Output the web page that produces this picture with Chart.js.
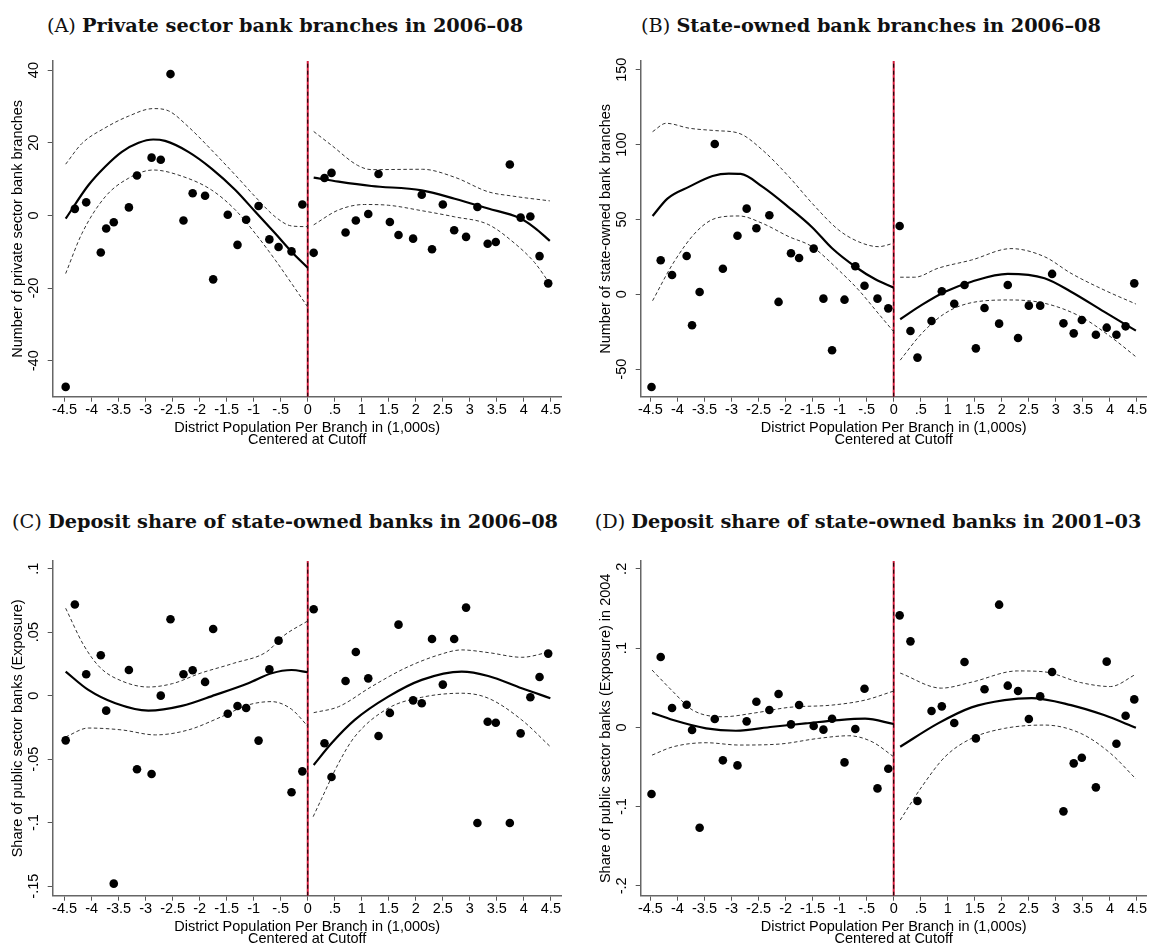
<!DOCTYPE html>
<html>
<head>
<meta charset="utf-8">
<script src="https://cdn.jsdelivr.net/npm/chart.js@4.4.1/dist/chart.umd.min.js"></script>
<style>
  html, body { margin: 0; padding: 0; background: #fff; }
  body { width: 1151px; height: 947px; position: relative; overflow: hidden; }
  canvas { position: absolute; }
  .title {
    position: absolute; white-space: nowrap; transform: translateX(-50%);
    font-family: "DejaVu Serif", serif; font-size: 19.3px; line-height: 19.3px; color: #111;
  }
  .title b { font-weight: bold; }
</style>
</head>
<body>
<div class="title" style="left:285px; top:15.7px">(A) <b>Private sector bank branches in 2006–08</b></div>
<div class="title" style="left:871px; top:15.7px">(B) <b>State-owned bank branches in 2006–08</b></div>
<div class="title" style="left:285px; top:512px">(C) <b>Deposit share of state-owned banks in 2006–08</b></div>
<div class="title" style="left:868px; top:512px">(D) <b>Deposit share of state-owned banks in 2001–03</b></div>

<canvas id="panelA" width="575" height="470" style="left:0px; top:0px"></canvas>
<canvas id="panelB" width="576" height="470" style="left:575px; top:0px"></canvas>
<canvas id="panelC" width="575" height="447" style="left:0px; top:500px"></canvas>
<canvas id="panelD" width="576" height="447" style="left:575px; top:500px"></canvas>

<script>
// Bin midpoints: district population per branch (1,000s), centered at the cutoff
const binX = [-4.48, -4.31, -4.10, -3.83, -3.73, -3.59, -3.31, -3.16, -2.89, -2.72, -2.54, -2.30,
  -2.13, -1.90, -1.75, -1.48, -1.30, -1.14, -0.91, -0.71, -0.54, -0.30, -0.10,
  0.11, 0.31, 0.44, 0.70, 0.89, 1.12, 1.31, 1.52, 1.68, 1.95, 2.11, 2.30, 2.50, 2.71,
  2.93, 3.14, 3.33, 3.48, 3.74, 3.94, 4.12, 4.29, 4.45];

// Binned means
const privateBranches = [-47.2, 1.8, 3.6, -10.2, -3.6, -1.9, 2.2, 11.0, 15.9, 15.3, 38.9, -1.4,
  6.1, 5.4, -17.6, 0.2, -8.1, -1.2, 2.6, -6.6, -8.7, -9.9, 3.0,
  -10.3, 10.3, 11.7, -4.7, -1.4, 0.4, 11.4, -1.8, -5.4, -6.4, 5.7, -9.3, 3.0, -4.1,
  -5.9, 2.3, -7.8, -7.3, 14.0, -0.6, -0.3, -11.2, -18.7];
const stateBranches = [-61.9, 22.7, 12.9, 25.6, -20.7, 1.5, 100.4, 17.1, 39.1, 57.2, 44.1, 52.8,
  -5.1, 27.4, 24.2, 30.5, -2.9, -37.4, -3.6, 18.7, 5.7, -2.9, -9.4,
  45.6, -24.5, -42.3, -17.8, 2.0, -6.3, 6.2, -36.1, -9.2, -19.6, 6.2, -29.2, -7.6, -7.6,
  13.6, -19.4, -26.1, -17.2, -27.0, -22.3, -27.0, -21.4, 7.3];
const depositShare0608 = [-0.0352, 0.0717, 0.0168, 0.0318, -0.0118, -0.148, 0.0202, -0.058, -0.0617, 0.0, 0.0601, 0.0168,
  0.020, 0.0108, 0.0525, -0.0142, -0.0081, -0.0097, -0.0354, 0.0207, 0.0433, -0.0761, -0.0596,
  0.068, -0.0375, -0.064, 0.0115, 0.0344, 0.0136, -0.0318, -0.0136, 0.0559, -0.0037, -0.006, 0.0446, 0.0087, 0.0446,
  0.0693, -0.1003, -0.0205, -0.0213, -0.1003, -0.0297, -0.0013, 0.0147, 0.0331];
const depositShare0103 = [-0.0841, 0.0887, 0.0244, 0.0286, -0.0034, -0.1266, 0.0105, -0.0416, -0.048, 0.0076, 0.0324, 0.0219,
  0.042, 0.0038, 0.0282, 0.0017, -0.0029, 0.0109, -0.0442, -0.0021, 0.0488, -0.077, -0.0522,
  0.1413, 0.1085, -0.093, 0.0206, 0.0265, 0.0055, 0.0824, -0.0139, 0.048, 0.1548, 0.0526, 0.0458, 0.0105, 0.0391,
  0.0698, -0.106, -0.0454, -0.0383, -0.0757, 0.0829, -0.0206, 0.0147, 0.0353];

// Local polynomial fits and 95% bands, [x, y], each side of the cutoff
const privateFitLeft = [[-4.48, -0.9], [-4.06, 8.3], [-3.75, 13.4], [-3.44, 17.5], [-3.13, 20.0], [-2.86, 20.9], [-2.64, 20.5], [-2.21, 17.5], [-1.78, 12.9], [-1.34, 7.0], [-0.97, 1.0], [-0.60, -5.0], [-0.30, -10.0], [0, -14.4]];
const privateUpperLeft = [[-4.48, 14.1], [-4.18, 19.8], [-3.75, 24.1], [-3.32, 27.3], [-2.86, 29.4], [-2.58, 28.8], [-2.21, 24.4], [-1.78, 18.0], [-1.34, 11.1], [-0.97, 5.1], [-0.60, -0.4], [-0.30, -2.9], [0, -3.1]];
const privateLowerLeft = [[-4.48, -16.0], [-4.18, -5.0], [-3.75, 5.1], [-3.32, 10.2], [-2.86, 12.5], [-2.33, 10.8], [-1.78, 7.0], [-1.34, 1.5], [-0.97, -5.0], [-0.60, -12.3], [-0.30, -18.7], [0, -25.2]];
const privateFitRight = [[0.11, 10.4], [0.57, 9.3], [1.18, 8.1], [2.11, 6.9], [2.72, 4.6], [3.34, 1.9], [3.90, -0.6], [4.20, -3.4], [4.48, -7.0]];
const privateUpperRight = [[0.11, 23.1], [0.44, 19.3], [0.92, 13.8], [1.18, 12.6], [2.12, 12.7], [2.72, 10.5], [3.34, 6.5], [3.80, 5.3], [4.48, 4.0]];
const privateLowerRight = [[0.11, -2.6], [0.57, 1.5], [1.05, 3.0], [1.49, 2.8], [2.11, 1.3], [2.72, -0.4], [3.34, -2.5], [3.83, -7.7], [4.20, -13.0], [4.48, -18.8]];

const stateFitLeft = [[-4.46, 52.3], [-4.18, 64.1], [-3.78, 71.9], [-3.35, 79.0], [-3.05, 80.6], [-2.83, 80.4], [-2.43, 71.9], [-1.94, 58.1], [-1.51, 44.8], [-1.14, 30.7], [-0.71, 18.4], [-0.34, 10.0], [0, 4.4]];
const stateUpperLeft = [[-4.46, 108.6], [-4.21, 114.2], [-3.78, 110.9], [-3.29, 109.3], [-2.86, 107.5], [-2.43, 96.4], [-1.94, 78.6], [-1.51, 60.8], [-1.02, 43.0], [-0.65, 35.1], [-0.28, 31.8], [0, 34.1]];
const stateLowerLeft = [[-4.46, -4.3], [-4.08, 20.7], [-3.65, 41.8], [-3.29, 50.8], [-2.86, 52.3], [-2.43, 47.4], [-1.94, 38.5], [-1.51, 31.8], [-1.02, 16.2], [-0.65, 2.9], [-0.28, -13.0], [0, -25.0]];
const stateFitRight = [[0.12, -16.7], [0.52, -7.1], [0.95, 1.7], [1.44, 8.4], [2.11, 13.6], [2.79, 10.7], [3.28, 1.7], [3.89, -11.6], [4.48, -24.3]];
const stateUpperRight = [[0.12, 11.4], [0.39, 11.4], [0.82, 17.4], [1.44, 22.9], [2.17, 30.5], [2.79, 25.1], [3.28, 14.0], [3.89, 2.9], [4.48, -6.5]];
const stateLowerRight = [[0.12, -44.0], [0.52, -26.1], [0.95, -12.7], [1.44, -5.6], [2.17, -3.8], [2.79, -6.0], [3.46, -15.0], [4.01, -28.3], [4.48, -41.7]];

const share0608FitLeft = [[-4.48, 0.0189], [-4.06, 0.0045], [-3.56, -0.0060], [-2.95, -0.0118], [-2.33, -0.0081], [-1.71, 0.0006], [-1.10, 0.0098], [-0.67, 0.0176], [-0.30, 0.0202], [0, 0.0184]];
const share0608UpperLeft = [[-4.48, 0.0688], [-4.15, 0.0400], [-3.84, 0.0220], [-3.44, 0.0115], [-2.95, 0.0068], [-2.50, 0.0095], [-1.99, 0.0176], [-1.37, 0.0255], [-0.76, 0.0345], [-0.45, 0.0470], [0, 0.0588]];
const share0608LowerLeft = [[-4.48, -0.0325], [-4.06, -0.0255], [-3.44, -0.0270], [-2.82, -0.0309], [-2.21, -0.0270], [-1.59, -0.0165], [-1.10, -0.0073], [-0.67, -0.0047], [-0.30, -0.0107], [0, -0.0240]];
const share0608FitRight = [[0.11, -0.0546], [0.44, -0.0375], [0.87, -0.0191], [1.49, -0.0008], [2.11, 0.0124], [2.85, 0.0189], [3.34, 0.0155], [3.96, 0.0058], [4.49, -0.0020]];
const share0608UpperRight = [[0.11, -0.0134], [0.57, -0.0087], [1.18, 0.0071], [1.80, 0.0216], [2.42, 0.0320], [2.85, 0.0360], [3.34, 0.0339], [3.96, 0.0302], [4.49, 0.0346]];
const share0608LowerRight = [[0.10, -0.0953], [0.26, -0.0808], [0.57, -0.0532], [0.87, -0.0323], [1.49, -0.0099], [2.11, -0.0013], [2.85, 0.0019], [3.34, -0.0020], [3.96, -0.0191], [4.49, -0.0402]];

const share0103FitLeft = [[-4.47, 0.0183], [-4.08, 0.0092], [-3.47, -0.0013], [-2.92, -0.0043], [-2.24, 0.0008], [-1.63, 0.0050], [-1.02, 0.0092], [-0.53, 0.0109], [0, 0.0042]];
const share0103UpperLeft = [[-4.47, 0.0723], [-4.08, 0.0449], [-3.72, 0.0218], [-3.16, 0.0134], [-2.55, 0.0184], [-1.94, 0.0252], [-1.14, 0.0281], [-0.53, 0.0344], [0, 0.0458]];
const share0103LowerLeft = [[-4.47, -0.0350], [-4.08, -0.0245], [-3.47, -0.0194], [-2.86, -0.0223], [-2.12, -0.0211], [-1.39, -0.0139], [-0.83, -0.0106], [-0.40, -0.0182], [0, -0.0371]];
const share0103FitRight = [[0.12, -0.0245], [0.82, 0.0050], [1.44, 0.0252], [2.05, 0.0344], [2.55, 0.0370], [3.28, 0.0281], [3.89, 0.0155], [4.48, -0.0005]];
const share0103UpperRight = [[0.12, 0.0685], [0.88, 0.0495], [1.44, 0.0570], [2.29, 0.0712], [2.79, 0.0700], [3.46, 0.0565], [4.01, 0.0515], [4.48, 0.0670]];
const share0103LowerRight = [[0.12, -0.1170], [0.52, -0.0749], [0.95, -0.0371], [1.44, -0.0139], [2.05, -0.0013], [2.79, 0.0029], [3.46, -0.0076], [4.01, -0.0328], [4.48, -0.0650]];

// Tick values
const xTicks = [-4.5, -4, -3.5, -3, -2.5, -2, -1.5, -1, -0.5, 0, 0.5, 1, 1.5, 2, 2.5, 3, 3.5, 4, 4.5];
const privateTicks = [-40, -20, 0, 20, 40];
const stateTicks = [-50, 0, 50, 100, 150];
const share0608Ticks = [-0.15, -0.1, -0.05, 0, 0.05, 0.1];
const share0103Ticks = [-0.2, -0.1, 0, 0.1, 0.2];

const xTitleLines = ['District Population Per Branch in (1,000s)', 'Centered at Cutoff'];
const sansFont = '"Liberation Sans", Arial, Helvetica, sans-serif';
const labelSize = 14.5;

// Stata-style numbers: no leading zero (".5", "-.15")
function stataNum(v) {
  const r = Math.round(v * 1e6) / 1e6;
  if (r === 0) return '0';
  const s = String(Math.abs(r)).replace(/^0\./, '.');
  return (r < 0 ? '-' : '') + s;
}

const toPts = pairs => pairs.map(([x, y]) => ({ x, y }));

// Rotated y tick labels, y title and the two-line x title
const stataLabels = {
  id: 'stataLabels',
  afterDraw(chart, args, opts) {
    const { ctx, chartArea: a, scales: { y } } = chart;
    ctx.save();
    ctx.fillStyle = '#000';
    ctx.font = labelSize + 'px ' + sansFont;
    ctx.textAlign = 'center';
    ctx.textBaseline = 'middle';
    y.ticks.forEach(t => {
      ctx.save();
      ctx.translate(a.left - 18.4, y.getPixelForValue(t.value));
      ctx.rotate(-Math.PI / 2);
      ctx.fillText(stataNum(t.value), 0, 0);
      ctx.restore();
    });
    ctx.save();
    ctx.translate(a.left - 34.5, (a.top + a.bottom) / 2);
    ctx.rotate(-Math.PI / 2);
    ctx.fillText(opts.yTitle, 0, 0);
    ctx.restore();
    const cx = (a.left + a.right) / 2;
    ctx.fillText(xTitleLines[0], cx, a.bottom + 31);
    ctx.fillText(xTitleLines[1], cx, a.bottom + 43.5);
    ctx.restore();
  }
};

function curve(pairs, dashed) {
  return {
    data: toPts(pairs),
    showLine: true,
    pointRadius: 0,
    borderColor: dashed ? '#333' : '#000',
    borderWidth: dashed ? 1 : 2.2,
    borderDash: dashed ? [3.5, 2.5] : [],
    cubicInterpolationMode: 'monotone',
    fill: false,
    order: 2
  };
}

function makePanel(id, p) {
  const canvas = document.getElementById(id);
  const W = canvas.width, H = canvas.height;
  const datasets = [
    {
      data: binX.map((x, i) => ({ x, y: p.values[i] })),
      pointRadius: 4.3,
      pointBackgroundColor: '#000',
      pointBorderWidth: 0,
      showLine: false,
      order: 0
    },
    curve(p.fitL, false), curve(p.upL, true), curve(p.loL, true),
    curve(p.fitR, false), curve(p.upR, true), curve(p.loR, true),
    {
      data: [{ x: 0, y: p.yMin }, { x: 0, y: p.yMax }],
      showLine: true, pointRadius: 0, borderColor: '#d81b3c', borderWidth: 2, order: 4
    },
    {
      data: [{ x: 0, y: p.yMin }, { x: 0, y: p.yMax }],
      showLine: true, pointRadius: 0, borderColor: '#000', borderWidth: 1, borderDash: [4, 3], order: 3
    }
  ];
  return new Chart(canvas, {
    type: 'scatter',
    data: { datasets },
    plugins: [stataLabels],
    options: {
      responsive: false,
      animation: false,
      devicePixelRatio: 1,
      layout: { padding: { top: p.top, right: W - p.right, left: 0, bottom: 0 } },
      plugins: {
        legend: { display: false },
        tooltip: { enabled: false },
        stataLabels: { yTitle: p.yTitle }
      },
      scales: {
        x: {
          type: 'linear', min: p.xMin, max: p.xMax,
          afterBuildTicks: s => { s.ticks = xTicks.map(v => ({ value: v })); },
          afterFit: s => { s.height = H - p.bottom; s.paddingLeft = 0; s.paddingRight = 0; },
          ticks: {
            autoSkip: false, maxRotation: 0, minRotation: 0, padding: 0,
            color: '#000', font: { family: sansFont, size: labelSize },
            callback: v => stataNum(v)
          },
          grid: { drawOnChartArea: false, drawTicks: true, tickLength: 5, color: '#555', lineWidth: 1 },
          border: { color: '#666', width: 1.5 }
        },
        y: {
          type: 'linear', min: p.yMin, max: p.yMax,
          afterBuildTicks: s => { s.ticks = p.ticks.map(v => ({ value: v })); },
          afterFit: s => { s.width = p.left; s.paddingTop = 0; s.paddingBottom = 0; },
          ticks: { display: false },
          grid: { drawOnChartArea: false, drawTicks: true, tickLength: 5, color: '#555', lineWidth: 1 },
          border: { color: '#666', width: 1.5 }
        }
      }
    }
  });
}

makePanel('panelA', {
  values: privateBranches, ticks: privateTicks, yMin: -49.9, yMax: 42.5, xMin: -4.72, xMax: 4.70,
  left: 52.7, right: 561.7, top: 61, bottom: 396.7,
  yTitle: 'Number of private sector bank branches',
  fitL: privateFitLeft, upL: privateUpperLeft, loL: privateLowerLeft,
  fitR: privateFitRight, upR: privateUpperRight, loR: privateLowerRight
});
makePanel('panelB', {
  values: stateBranches, ticks: stateTicks, yMin: -68.4, yMax: 155.8, xMin: -4.68, xMax: 4.68,
  left: 65.7, right: 574, top: 61, bottom: 396.7,
  yTitle: 'Number of state-owned bank branches',
  fitL: stateFitLeft, upL: stateUpperLeft, loL: stateLowerLeft,
  fitR: stateFitRight, upR: stateUpperRight, loR: stateLowerRight
});
makePanel('panelC', {
  values: depositShare0608, ticks: share0608Ticks, yMin: -0.1575, yMax: 0.106, xMin: -4.72, xMax: 4.70,
  left: 52.7, right: 561.7, top: 61, bottom: 395.7,
  yTitle: 'Share of public sector banks (Exposure)',
  fitL: share0608FitLeft, upL: share0608UpperLeft, loL: share0608LowerLeft,
  fitR: share0608FitRight, upR: share0608UpperRight, loR: share0608LowerRight
});
makePanel('panelD', {
  values: depositShare0103, ticks: share0103Ticks, yMin: -0.2124, yMax: 0.2099, xMin: -4.68, xMax: 4.68,
  left: 65.7, right: 574, top: 61, bottom: 395.7,
  yTitle: 'Share of public sector banks (Exposure) in 2004',
  fitL: share0103FitLeft, upL: share0103UpperLeft, loL: share0103LowerLeft,
  fitR: share0103FitRight, upR: share0103UpperRight, loR: share0103LowerRight
});
</script>
</body>
</html>
